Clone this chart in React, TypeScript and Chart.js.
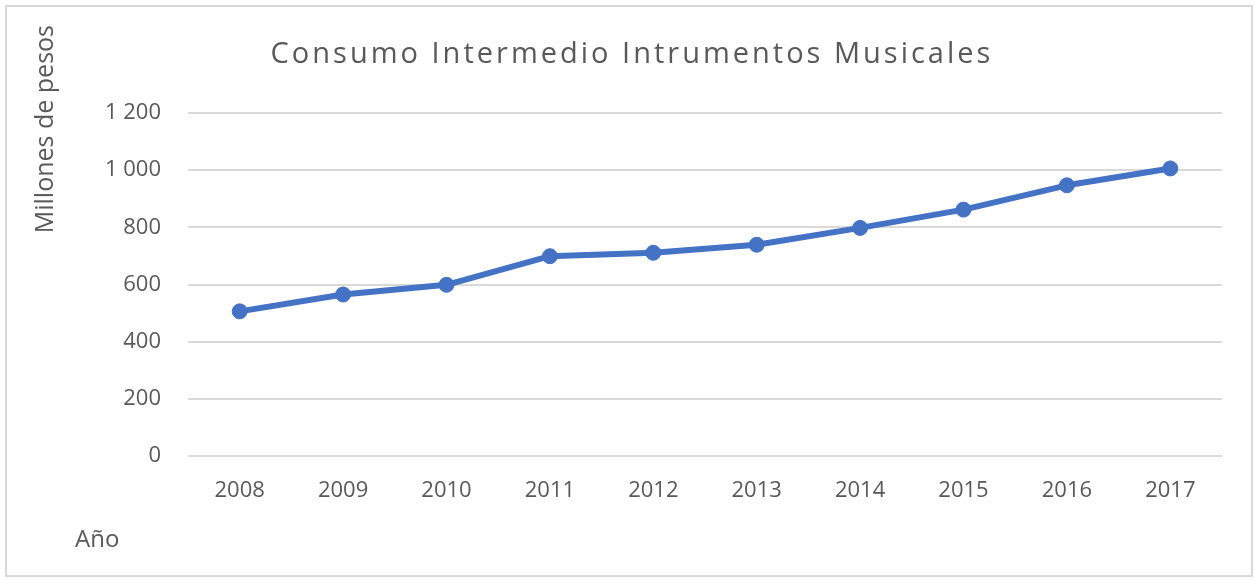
import React, { useEffect, useRef } from "react";
import { Chart, registerables } from "chart.js";

Chart.register(...registerables);

const years = ["2008", "2009", "2010", "2011", "2012", "2013", "2014", "2015", "2016", "2017"];
const values = [506, 565, 599, 699, 711, 739, 798, 862, 947, 1006];
const yMin = 0;
const yMax = 1200;
const yStep = 200;
const titleText = "Consumo Intermedio Intrumentos Musicales";
const yAxisTitle = "Millones de pesos";
const xAxisTitle = "Año";

const TEXT = "#595959";
const LINE = "#4472c4";
const GRID = "#d9d9d9";
const FONT = "'Open Sans', 'DejaVu Sans', sans-serif";

function formatThousands(v: number): string {
  if (v >= 1000) {
    return Math.floor(v / 1000) + " " + String(v % 1000).padStart(3, "0");
  }
  return String(v);
}

const textPlugin = {
  id: "customText",
  afterDraw(chart: any) {
    const ctx = chart.ctx as CanvasRenderingContext2D;
    ctx.save();
    ctx.fillStyle = TEXT;
    // Title
    ctx.font = `29px ${FONT}`;
    (ctx as any).letterSpacing = "3px";
    ctx.textAlign = "center";
    ctx.textBaseline = "alphabetic";
    ctx.fillText(titleText, 632, 63);
    (ctx as any).letterSpacing = "0px";
    // Y axis title
    ctx.font = `25px ${FONT}`;
    ctx.save();
    ctx.translate(53, 25);
    ctx.rotate(-Math.PI / 2);
    ctx.textAlign = "right";
    ctx.fillText(yAxisTitle, 0, 0);
    ctx.restore();
    // X axis title
    ctx.font = `24px ${FONT}`;
    ctx.textAlign = "left";
    ctx.fillText(xAxisTitle, 75, 547);
    ctx.restore();
  },
};

export default function App() {
  const canvasRef = useRef<HTMLCanvasElement | null>(null);

  useEffect(() => {
    if (!canvasRef.current) return;
    const chart = new Chart(canvasRef.current, {
      type: "line",
      data: {
        labels: years,
        datasets: [
          {
            data: values,
            borderColor: LINE,
            backgroundColor: LINE,
            borderWidth: 6,
            pointRadius: 7.5,
            pointBorderWidth: 1,
            pointBackgroundColor: LINE,
            pointBorderColor: LINE,
            tension: 0,
            borderCapStyle: "round",
            borderJoinStyle: "round",
          },
        ],
      },
      options: {
        responsive: false,
        animation: false,
        devicePixelRatio: 1,
        layout: { padding: { left: 0, right: 33, top: 113, bottom: 80 } },
        plugins: {
          legend: { display: false },
          tooltip: { enabled: false },
          title: { display: false },
        },
        scales: {
          x: {
            type: "category",
            offset: true,
            grid: { display: false, drawTicks: false },
            border: { display: false },
            ticks: {
              color: TEXT,
              font: { family: FONT, size: 22 },
              padding: 22,
              maxRotation: 0,
            },
            afterFit: (s: any) => {
              s.height = 44;
            },
          },
          y: {
            min: yMin,
            max: yMax,
            grid: { color: GRID, lineWidth: 2, drawTicks: false },
            border: { display: false },
            ticks: {
              stepSize: yStep,
              color: TEXT,
              font: { family: FONT, size: 22 },
              padding: 27,
              callback: (v: any) => formatThousands(Number(v)),
            },
            afterFit: (s: any) => {
              s.width = 188;
            },
          },
        },
      },
      plugins: [textPlugin],
    });
    return () => chart.destroy();
  }, []);

  return (
    <div style={{ position: "absolute", left: 0, top: 0, width: 1255, height: 580, background: "#fff" }}>
      <div
        style={{
          position: "absolute",
          left: 5,
          top: 5,
          width: 1248,
          height: 572,
          border: "2px solid #d9d9d9",
          boxSizing: "border-box",
        }}
      />
      <canvas ref={canvasRef} width={1255} height={580} style={{ position: "absolute", left: 0, top: 0 }} />
    </div>
  );
}
